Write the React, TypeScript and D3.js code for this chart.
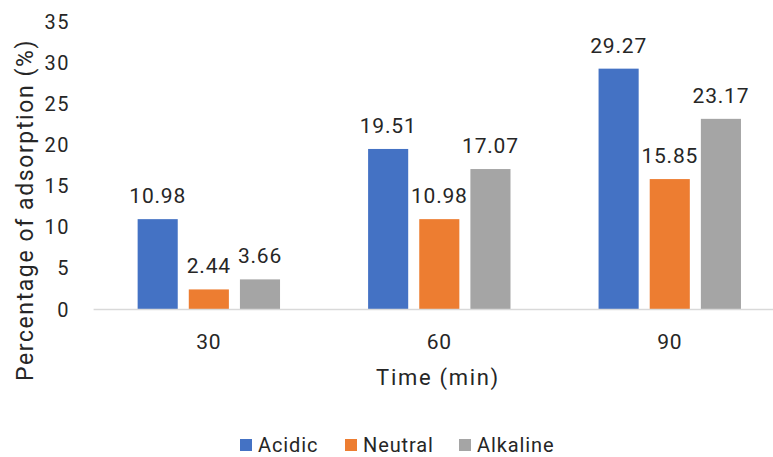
import React from "react";
import * as d3 from "d3";

const categories = ["30", "60", "90"];
const seriesNames = ["Acidic", "Neutral", "Alkaline"];
const acidic = [10.98, 19.51, 29.27];
const neutral = [2.44, 10.98, 15.85];
const alkaline = [3.66, 17.07, 23.17];
const yTicks = [0, 5, 10, 15, 20, 25, 30, 35];
const colors = ["#4472C4", "#ED7D31", "#A5A5A5"];

const W = 773;
const H = 457;
const FONT = "Roboto, 'DejaVu Sans', sans-serif";
const TEXT = "#262626";

export default function App() {
  const series = [acidic, neutral, alkaline];
  const x = d3.scaleBand<string>().domain(categories).range([93.6, 785]).padding(0);
  const y = d3.scaleLinear().domain([0, 35]).range([309.5, 21.5]);
  const half = 71.2;
  const inner = d3
    .scaleBand<string>()
    .domain(seriesNames)
    .range([-half, half])
    .paddingInner(0.216)
    .paddingOuter(0);
  const legendX = [240, 345, 459];

  return (
    <svg
      width={W}
      height={H}
      style={{ position: "absolute", left: 0, top: 0, background: "#fff" }}
      fontFamily={FONT}
    >
      <rect x={0} y={0} width={W} height={H} fill="#fff" />
      {categories.map((c, ci) => {
        const cx = (x(c) as number) + x.bandwidth() / 2;
        return (
          <g key={c}>
            {seriesNames.map((s, si) => {
              const v = series[si][ci];
              const bx = cx + (inner(s) as number);
              const bw = inner.bandwidth();
              return (
                <g key={s}>
                  <rect x={bx} y={y(v)} width={bw} height={y(0) - y(v)} fill={colors[si]} />
                  <text
                    x={bx + bw / 2}
                    y={y(v) - 16}
                    textAnchor="middle"
                    fontSize={21}
                    letterSpacing={0.8}
                    fill={TEXT}
                  >
                    {v.toFixed(2)}
                  </text>
                </g>
              );
            })}
            <text x={cx} y={348.5} textAnchor="middle" fontSize={21} letterSpacing={0.8} fill={TEXT}>
              {c}
            </text>
          </g>
        );
      })}
      <line x1={93.6} x2={785} y1={y(0)} y2={y(0)} stroke="#D9D9D9" strokeWidth={1.5} />
      {yTicks.map((t) => (
        <text
          key={t}
          x={70}
          y={y(t)}
          dy="0.35em"
          textAnchor="end"
          fontSize={20}
          letterSpacing={1.5}
          fill={TEXT}
        >
          {t}
        </text>
      ))}
      <text
        transform={`translate(33,210) rotate(-90)`}
        textAnchor="middle"
        fontSize={23}
        letterSpacing={1.6}
        fill={TEXT}
      >
        Percentage of adsorption (%)
      </text>
      <text x={438} y={385} textAnchor="middle" fontSize={22} letterSpacing={1.7} fill={TEXT}>
        Time (min)
      </text>
      {seriesNames.map((s, i) => (
        <g key={s}>
          <rect x={legendX[i]} y={439} width={12} height={12} fill={colors[i]} />
          <text x={legendX[i] + 18} y={452} fontSize={20} letterSpacing={0.9} fill={TEXT}>
            {s}
          </text>
        </g>
      ))}
    </svg>
  );
}
